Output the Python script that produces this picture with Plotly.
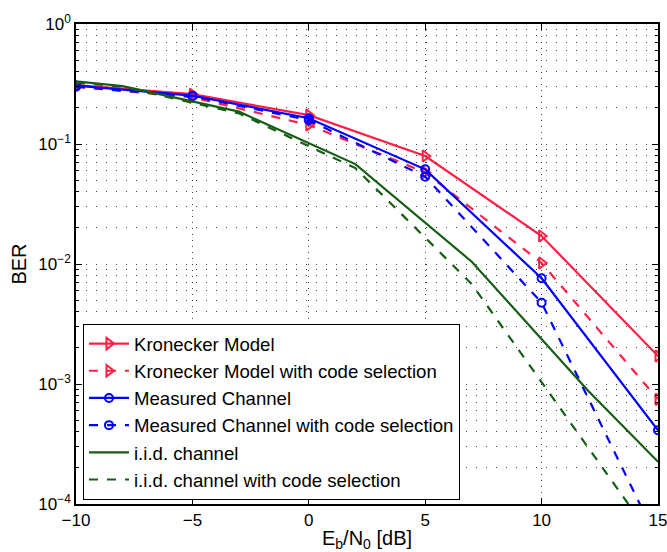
import plotly.graph_objects as go

# ---- data ----
snr = [-10, -5, 0, 5, 10, 15]
kron = [0.31, 0.26, 0.174, 0.0794, 0.0171, 0.00171]
kron_cs = [0.30, 0.245, 0.144, 0.058, 0.0102, 0.000745]
meas = [0.306, 0.253, 0.164, 0.0615, 0.0076, 0.000412]
meas_cs = [0.30, 0.25, 0.158, 0.0534, 0.00476, 0.000049]

snr_iid = [-10, -8, -3, 2, 7, 12, 15]
iid = [0.333, 0.304, 0.186, 0.068, 0.01045, 0.00088, 0.000225]
iid_cs = [0.325, 0.30, 0.18, 0.063, 0.0068, 0.00029, 0.000045]

x_ticks = [-10, -5, 0, 5, 10, 15]
x_ticktext = ["\u221210", "\u22125", "0", "5", "10", "15"]
y_ticks = [1e-4, 1e-3, 1e-2, 1e-1, 1e0]
y_ticktext = ["10<sup>\u22124</sup>", "10<sup>\u22123</sup>", "10<sup>\u22122</sup>",
              "10<sup>\u22121</sup>", "10<sup>0</sup>"]
y_minor = [m * 10 ** e for e in range(-4, 0) for m in range(2, 10)]

RED = "#ff1f45"
BLUE = "#0000ff"
GREEN = "#165e16"
FONT = "Liberation Sans, Arial, sans-serif"

fig = go.Figure()

series = [
    (snr, kron, "Kronecker Model", RED, "solid", "triangle-right-open", 10),
    (snr, kron_cs, "Kronecker Model with code selection", RED, "dash", "triangle-right-open", 10),
    (snr, meas, "Measured Channel", BLUE, "solid", "circle-open", 8),
    (snr, meas_cs, "Measured Channel with code selection", BLUE, "dash", "circle-open", 8),
    (snr_iid, iid, "i.i.d. channel", GREEN, "solid", None, 0),
    (snr_iid, iid_cs, "i.i.d. channel with code selection", GREEN, "dash", None, 0),
]
for i, (xs, ys, name, col, dash, sym, sz) in enumerate(series):
    kw = dict(mode="lines")
    if sym:
        kw = dict(mode="lines+markers",
                  marker=dict(symbol=sym, size=sz, color=col, line=dict(width=2, color=col)))
    fig.add_trace(go.Scatter(x=xs, y=ys, name=name, legendgroup=str(i),
                             line=dict(color=col, width=2.2, dash=dash), **kw))

fig.update_layout(
    width=667, height=552,
    margin=dict(l=76, r=9, t=24, b=48),
    paper_bgcolor="white", plot_bgcolor="white",
    font=dict(family=FONT, size=17, color="black"),
    legend=dict(x=0.012, y=0.375, xanchor="left", yanchor="top",
                bgcolor="white", bordercolor="black", borderwidth=1,
                font=dict(size=18.6), tracegroupgap=0, itemwidth=40,
                traceorder="grouped"),
    showlegend=True,
)
fig.update_xaxes(
    range=[-10, 15], tickmode="array", tickvals=x_ticks, ticktext=x_ticktext,
    showline=True, linecolor="black", linewidth=1.5, mirror="allticks",
    ticks="inside", ticklen=6, tickcolor="black", automargin=False,
    ticklabeloverflow="allow",
    showgrid=True, gridcolor="rgba(0,0,0,0.75)", griddash="1px,5px", gridwidth=1,
    zeroline=False,
    title=dict(text="E<sub>b</sub>/N<sub>0</sub> [dB]", standoff=4),
)
fig.update_yaxes(
    type="log", range=[-4, 0], tickmode="array", tickvals=y_ticks, ticktext=y_ticktext,
    showline=True, linecolor="black", linewidth=1.5, mirror="allticks",
    ticks="inside", ticklen=6, tickcolor="black", automargin=False,
    ticklabeloverflow="allow",
    showgrid=True, gridcolor="rgba(0,0,0,0.75)", griddash="1px,9px", gridwidth=1,
    minor=dict(tickmode="array", tickvals=y_minor, ticks="inside", ticklen=3,
               tickcolor="black", showgrid=True, gridcolor="rgba(0,0,0,0.75)",
               griddash="1px,9px", gridwidth=1),
    zeroline=False,
    title=dict(text="BER", standoff=6),
)

fig.write_html("out.html", config={"displayModeBar": False})
